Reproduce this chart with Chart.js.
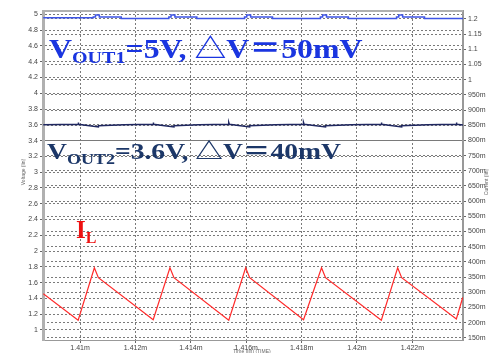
<!DOCTYPE html>
<html lang="en">
<head>
<meta charset="UTF-8">
<title>VOUT / IL waveform</title>
<script src="https://cdn.jsdelivr.net/npm/chart.js"></script>
<style>
  html, body { margin: 0; padding: 0; background: #fff; }
  #wrap { width: 497px; height: 353px; }
</style>
</head>
<body>
<div id="wrap"><canvas id="wave"></canvas></div>
<script>
// time in microseconds, axis labels print it as ms ("1.412m")
const ilTime = [1408.67, 1409.93, 1410.515, 1410.66, 1412.64, 1413.245, 1413.39, 1415.37, 1415.98, 1416.125,
                1418.07, 1418.72, 1418.865, 1420.88, 1421.47, 1421.615, 1423.59, 1423.82];
const ilAmps = [0.295, 0.208, 0.381, 0.348, 0.210, 0.381, 0.348, 0.208, 0.381, 0.348,
                0.210, 0.381, 0.348, 0.208, 0.381, 0.348, 0.212, 0.283];

// VOUT1 is drawn stepped: each level holds until the next time
const v1Time = [1408.67, 1410.475, 1410.555, 1410.695, 1411.485, 1413.205, 1413.285, 1413.425, 1414.215,
                1415.94, 1416.02, 1416.16, 1416.95, 1418.68, 1418.76, 1418.90, 1419.69,
                1421.43, 1421.51, 1421.65, 1422.44, 1423.83];
const v1Volts = [4.957, 4.966, 4.991, 4.966, 4.948, 4.966, 4.991, 4.966, 4.948,
                 4.966, 4.991, 4.966, 4.948, 4.966, 4.991, 4.966, 4.948,
                 4.966, 4.991, 4.966, 4.948, 4.948];

const v2Time = [1408.67, 1409.93, 1409.93, 1409.95, 1410.66, 1410.66, 1411.6,
                1412.64, 1412.64, 1412.66, 1413.39, 1413.39, 1414.3,
                1415.37, 1415.37, 1415.39, 1416.125, 1416.125, 1417.05,
                1418.07, 1418.07, 1418.09, 1418.865, 1418.865, 1419.8,
                1420.88, 1420.88, 1420.90, 1421.615, 1421.615, 1422.55,
                1423.59, 1423.59, 1423.61, 1423.83];
const v2Volts = [3.601, 3.606, 3.628, 3.606, 3.573, 3.589, 3.600,
                 3.606, 3.628, 3.606, 3.573, 3.589, 3.600,
                 3.606, 3.628, 3.606, 3.573, 3.589, 3.600,
                 3.606, 3.628, 3.606, 3.573, 3.589, 3.600,
                 3.606, 3.628, 3.606, 3.573, 3.589, 3.600,
                 3.606, 3.628, 3.606, 3.598];

const pts = (xs, ys) => xs.map((x, i) => ({ x: x, y: ys[i] }));

const gridStyle = { color: '#7a7a7a', lineWidth: 1, tickLength: 3, tickColor: '#666' };
const tickFont = { family: 'Liberation Sans', size: 7 };

// labels drawn on the plot + frame + axis titles
const notes = {
  id: 'notes',
  afterDraw(chart) {
    const c = chart.ctx;
    const a = chart.chartArea;
    c.save();
    // frame
    c.strokeStyle = '#b0b0b0';
    c.lineWidth = 2;
    c.beginPath();
    c.moveTo(a.left, a.top); c.lineTo(a.right, a.top);
    c.stroke();

    // the reference lettering is a bit wider than the font, so stretch it sideways
    function label(x, y, main, sub, rest, size, subSize, color, stretch) {
      c.save();
      c.translate(x, y);
      c.scale(stretch, 1);
      let cx = 0;
      c.fillStyle = color;
      c.textBaseline = 'alphabetic';
      c.textAlign = 'left';
      c.font = 'bold ' + size + 'px "Liberation Serif", "Noto Sans CJK SC", serif';
      c.fillText(main, cx, 0);
      cx += c.measureText(main).width;
      c.font = 'bold ' + subSize + 'px "Liberation Serif", serif';
      c.fillText(sub, cx, subSize * 0.3);
      cx += c.measureText(sub).width;
      if (rest) {
        c.font = 'bold ' + size + 'px "Liberation Serif", "Noto Sans CJK SC", serif';
        c.fillText(rest, cx, 0);
      }
      c.restore();
    }
    label(49, 58, 'V', 'OUT1', '=5V, \u25B3V\uFF1D50mV', 27, 17, '#1a35e0', 1.18);
    label(47, 159, 'V', 'OUT2', '=3.6V, \u25B3V\uFF1D40mV', 23, 15, '#1c3768', 1.2);
    label(76, 238, 'I', 'L', '', 25, 16, '#ee1111', 1);

    // axis titles
    c.fillStyle = '#666';
    c.font = '5px "Liberation Sans"';
    c.textAlign = 'center';
    c.save();
    c.translate(25, 172); c.rotate(-Math.PI / 2);
    c.fillText('Voltage (lin)', 0, 0);
    c.restore();
    c.save();
    c.translate(488, 182); c.rotate(-Math.PI / 2);
    c.fillText('Current (lin)', 0, 0);
    c.restore();
    c.fillText('Time (lin) (TIME)', 252, 353);
    c.restore();
  }
};

new Chart(document.getElementById('wave'), {
  type: 'line',
  data: {
    datasets: [
      { label: 'VOUT1', data: pts(v1Time, v1Volts), yAxisID: 'y', stepped: true,
        borderColor: '#3f55e6', borderWidth: 1.5 },
      { label: 'VOUT2', data: pts(v2Time, v2Volts), yAxisID: 'y',
        borderColor: '#1f2760', borderWidth: 1.5 },
      { label: 'IL', data: pts(ilTime, ilAmps), yAxisID: 'y1',
        borderColor: '#ff2a2a', borderWidth: 1.2 }
    ]
  },
  options: {
    responsive: true,
    maintainAspectRatio: false,
    animation: false,
    elements: { point: { radius: 0 }, line: { tension: 0 } },
    layout: { padding: { top: 11 } },
    plugins: { legend: { display: false }, tooltip: { enabled: false } },
    scales: {
      x: {
        type: 'linear', min: 1408.66, max: 1423.83,
        grid: gridStyle,
        border: { display: true, color: '#999', width: 1, dash: [2, 2] },
        ticks: { stepSize: 2, includeBounds: false, font: tickFont, color: '#444', padding: 1,
                 maxRotation: 0,
                 callback: v => (v / 1000) + 'm' },
        afterFit: s => { s.height = 13; }
      },
      y: {
        position: 'left', min: 0.873, max: 5.042,
        grid: gridStyle,
        border: { display: true, color: '#b0b0b0', width: 3, dash: [2, 2] },
        ticks: { stepSize: 0.2, includeBounds: false, font: tickFont, color: '#444', padding: 2,
                 callback: v => String(parseFloat(v.toFixed(1))) },
        afterFit: s => { s.width = 43; }
      },
      y1: {
        position: 'right', min: 0.143, max: 1.226,
        grid: gridStyle,
        border: { display: true, color: '#999', width: 2, dash: [2, 2] },
        ticks: { stepSize: 0.05, includeBounds: false, font: tickFont, color: '#444', padding: 2,
                 callback: v => v >= 0.999 ? String(parseFloat(v.toFixed(2))) : Math.round(v * 1000) + 'm' },
        afterFit: s => { s.width = 34; }
      }
    }
  },
  plugins: [notes]
});
</script>
</body>
</html>
